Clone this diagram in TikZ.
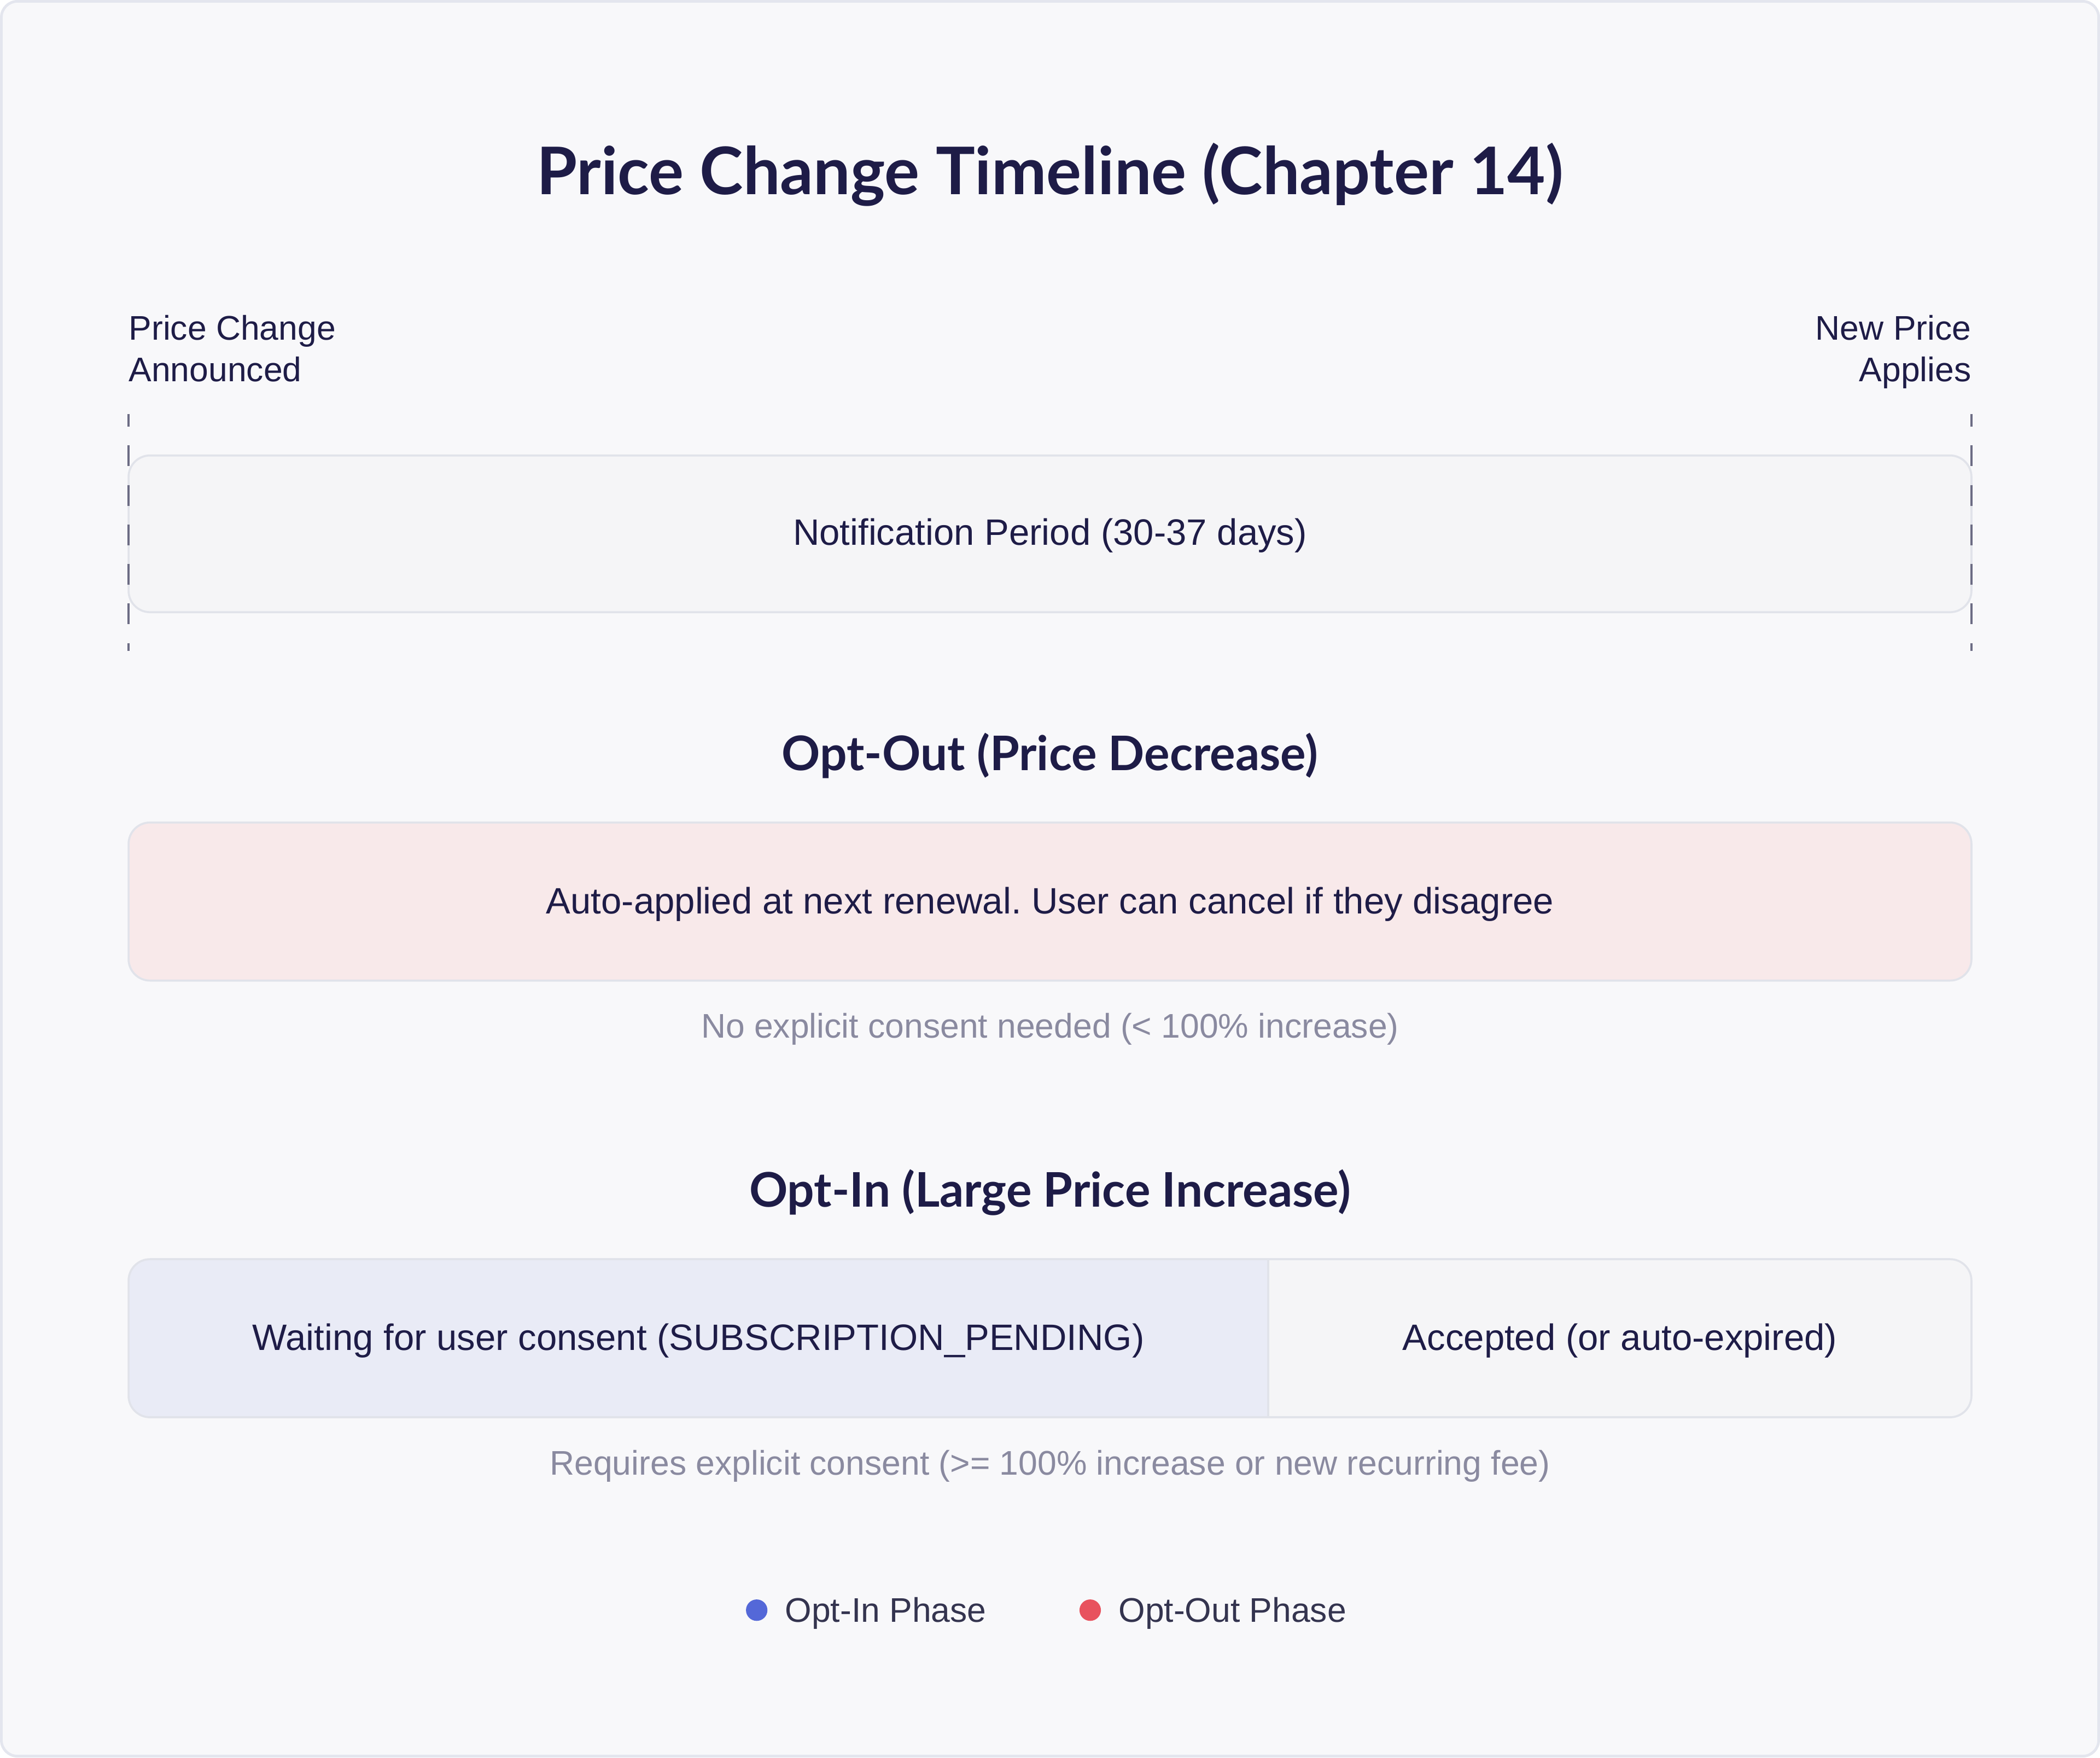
\documentclass[tikz,border=0pt]{standalone}
\usepackage{fontspec}
\setmainfont{Liberation Sans}
\newfontfamily\headfont{Lato}
\frenchspacing

\definecolor{pageback}{HTML}{F8F8FA}
\definecolor{pageline}{HTML}{E4E6EE}
\definecolor{inkdark}{HTML}{1E1C47}
\definecolor{inknote}{HTML}{8A8AA0}
\definecolor{inklegend}{HTML}{34344F}
\definecolor{markline}{HTML}{6C6C84}
\definecolor{boxline}{HTML}{E1E3EA}
\definecolor{neutralfill}{HTML}{F5F5F7}
\definecolor{optoutfill}{HTML}{F8E9EA}
\definecolor{optinfill}{HTML}{E9EBF6}
\definecolor{optinblue}{HTML}{5468D8}
\definecolor{optoutred}{HTML}{E8525E}

\tikzset{
	titletext/.style={inner sep=0, text=inkdark, font=\headfont\bfseries\fontsize{49}{58}\selectfont},
	headtext/.style={inner sep=0, text=inkdark, font=\headfont\bfseries\fontsize{35.6}{42}\selectfont},
	bodytext/.style={inner sep=0, text=inkdark, font=\fontsize{27.4}{32}\selectfont},
	marktext/.style={inner sep=0, text=inkdark, font=\fontsize{25.5}{31}\selectfont},
	notetext/.style={inner sep=0, text=inknote, font=\fontsize{25.5}{31}\selectfont},
	legendtext/.style={inner sep=0, text=inklegend, font=\fontsize{25.5}{31}\selectfont},
	phasebox/.style={draw=boxline, line width=1.5pt, rounded corners=16pt},
	markline/.style={draw=markline, line width=1.6pt, dash pattern=on 15.5pt off 14pt, dash phase=6pt}
}

\begin{document}
\begin{tikzpicture}[x=1pt, y=-1pt]
	\useasboundingbox (0, 0) rectangle (1568, 1312);
	\draw[fill=pageback, draw=pageline, line width=2pt, rounded corners=12pt] (1, 1) rectangle (1567, 1311);

	\node[titletext, anchor=base] (title) at (784, 145) {Price Change Timeline (Chapter 14)};

	% start and end of the notification period
	\node[marktext, anchor=north west, align=left] (announced) at (96, 235) {Price Change\\Announced};
	\node[marktext, anchor=north east, align=right] (applies) at (1472, 235) {New Price\\Applies};

	\coordinate (starttop) at (96, 309);
	\coordinate (startbot) at (96, 486);
	\coordinate (endtop) at (1472, 309);
	\coordinate (endbot) at (1472, 486);

	\draw[phasebox, fill=neutralfill] (96, 340) rectangle (1472, 457);
	\node[bodytext, anchor=base] (notify) at (784, 407) {Notification Period (30-37 days)};

	\draw[markline] (starttop) -- (startbot);
	\draw[markline] (endtop) -- (endbot);

	% opt-out
	\node[headtext, anchor=base] (outhead) at (784, 575) {Opt-Out (Price Decrease)};
	\draw[phasebox, fill=optoutfill] (96, 614) rectangle (1472, 732);
	\node[bodytext, anchor=base] (autoapply) at (784, 682) {Auto-applied at next renewal. User can cancel if they disagree};
	\node[notetext, anchor=base] (outnote) at (784, 775) {No explicit consent needed (< 100\% increase)};

	% opt-in
	\node[headtext, anchor=base] (inhead) at (784, 901) {Opt-In (Large Price Increase)};
	\begin{scope}
		\clip[rounded corners=16pt] (96, 940) rectangle (1472, 1058);
		\fill[optinfill] (96, 940) rectangle (947, 1058);
		\fill[neutralfill] (947, 940) rectangle (1472, 1058);
		\draw[boxline, line width=1.5pt] (947, 940) -- (947, 1058);
	\end{scope}
	\draw[phasebox] (96, 940) rectangle (1472, 1058);
	\node[bodytext, anchor=base] (waiting) at (521.5, 1008) {Waiting for user consent (SUBSCRIPTION\_PENDING)};
	\node[bodytext, anchor=base] (accepted) at (1209.5, 1008) {Accepted (or auto-expired)};
	\node[notetext, anchor=base] (innote) at (784, 1101) {Requires explicit consent (>= 100\% increase or new recurring fee)};

	% legend
	\fill[optinblue] (565, 1202) circle (8);
	\node[legendtext, anchor=base west] (inlegend) at (586, 1211) {Opt-In Phase};
	\fill[optoutred] (814, 1202) circle (8);
	\node[legendtext, anchor=base west] (outlegend) at (835, 1211) {Opt-Out Phase};
\end{tikzpicture}
\end{document}
